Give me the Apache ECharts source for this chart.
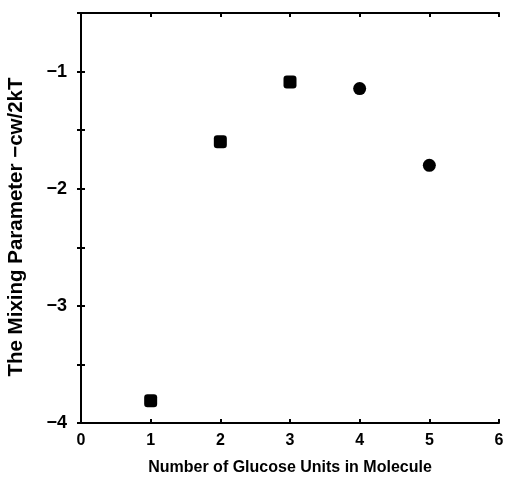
<!DOCTYPE html>
<html>
<head>
<meta charset="utf-8">
<script src="https://cdn.jsdelivr.net/npm/echarts@6/dist/echarts.min.js"></script>
<style>html,body{margin:0;padding:0;background:#fff}#c{width:505px;height:481px}</style>
</head>
<body>
<div id="c"></div>
<script>
var glucoseUnits = [1, 2, 3, 4, 5];
var mixingParam = [-3.81, -1.60, -1.09, -1.145, -1.80];
var markerShapes = ['roundRect', 'roundRect', 'roundRect', 'circle', 'circle'];
var xTitle = 'Number of Glucose Units in Molecule';
var yTitle = 'The Mixing Parameter \u2212cw/2kT';

var font = 'Liberation Sans, Arial, sans-serif';
var chart = echarts.init(document.getElementById('c'));
var data = glucoseUnits.map(function (x, i) {
  return { value: [x, mixingParam[i]], symbol: markerShapes[i] };
});
function minusFmt(v) {
  if (Math.abs(v - Math.round(v)) > 1e-9) return '';
  return String(Math.round(v)).replace('-', '\u2212');
}
var axisLineStyle = { show: true, lineStyle: { color: '#000', width: 2 } };
var tickStyle = { show: true, inside: true, length: 4, lineStyle: { color: '#000', width: 2 } };
chart.setOption({
  animation: false,
  backgroundColor: '#fff',
  grid: { left: 81, right: 6, top: 13, bottom: 58, containLabel: false, outerBoundsMode: 'none' },
  xAxis: [{
    type: 'value', min: 0, max: 6, interval: 1, position: 'bottom',
    axisLine: axisLineStyle, axisTick: tickStyle, splitLine: { show: false },
    axisLabel: { color: '#000', fontSize: 16, fontWeight: 'bold', fontFamily: font, margin: 10, formatter: minusFmt },
    name: xTitle, nameLocation: 'middle', nameGap: 37,
    nameTextStyle: { color: '#000', fontSize: 16, fontWeight: 'bold', fontFamily: font }
  }, {
    type: 'value', min: 0, max: 6, interval: 1, position: 'top',
    axisLine: axisLineStyle, axisTick: tickStyle, splitLine: { show: false },
    axisLabel: { show: false }
  }],
  yAxis: [{
    type: 'value', min: -4, max: -0.5, interval: 0.5, position: 'left',
    axisLine: axisLineStyle, axisTick: tickStyle, splitLine: { show: false },
    axisLabel: { color: '#000', fontSize: 18, fontWeight: 'bold', fontFamily: font, margin: 14, formatter: minusFmt, showMaxLabel: false },
    name: yTitle, nameLocation: 'middle', nameGap: 54, nameRotate: 90,
    nameTextStyle: { color: '#000', fontSize: 20.5, fontWeight: 'bold', fontFamily: font, padding: [0, 18, 0, 0] }
  }, {
    type: 'value', min: -4, max: -0.5, interval: 0.5, position: 'right',
    axisLine: axisLineStyle, axisTick: tickStyle, splitLine: { show: false },
    axisLabel: { show: false }
  }],
  series: [{
    type: 'scatter',
    xAxisIndex: 0, yAxisIndex: 0,
    symbolSize: 13,
    itemStyle: { color: '#000', opacity: 1 },
    data: data
  }]
});
</script>
</body>
</html>
